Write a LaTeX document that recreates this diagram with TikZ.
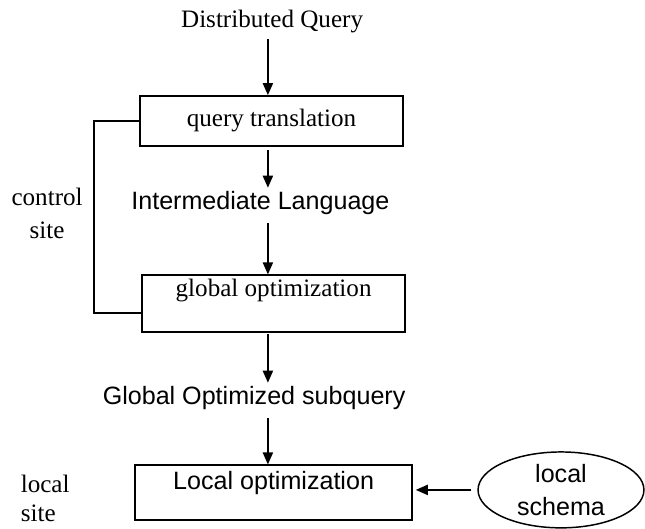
\documentclass[tikz,border=0pt]{standalone}
\usepackage{fontspec}
\setmainfont{Liberation Serif}
\setsansfont{Liberation Sans}
\usetikzlibrary{arrows.meta,shapes.geometric}

\begin{document}
\begin{tikzpicture}[
    serif/.style={font=\fontsize{23.8}{31.3}\selectfont},
    sans/.style={font=\fontsize{23.8}{31.3}\selectfont\sffamily},
    box/.style={draw, rectangle, line width=1.4pt, inner sep=0.1cm},
    arr/.style={-{Triangle[length=0.4cm, width=0.34cm]}, line width=1.4pt}
  ]
  \useasboundingbox (0,0) rectangle (21.5,-17.63);

  % column of the arrows
  \coordinate (axis) at (8.93,0);

  % Distributed query
  \node[serif] (dq) at (9.07,-0.70) {Distributed Query};

  % Query translation
  \node[box, serif, minimum width=8.77cm, minimum height=1.67cm] (qt) at (9.05,-4.03) {query translation};
  \draw[arr, shorten <=0.1cm] (dq.south -| axis) -- (qt.north -| axis);

  % Intermediate language
  \node[sans] (il) at (8.68,-6.77) {Intermediate Language};
  \draw[arr, shorten <=0.12cm] (qt.south -| axis) -- (il.north -| axis);

  % Global optimization
  \node[box, serif, minimum width=8.77cm, minimum height=1.9cm, text height=0.6cm, text depth=1.06cm] (go) at (9.12,-10.12) {global optimization};
  \draw[arr, shorten <=0.15cm] (il.south -| axis) -- (go.north -| axis);

  % Control site
  \draw[line width=1.4pt] (qt.west) -- ++(-1.5,0) |- ([yshift=-0.32cm]go.west);
  \node[serif, align=center] (cs) at (1.57,-7.1) {control\\site};

  % Global optimized subquery
  \node[sans] (gos) at (8.47,-13.27) {Global Optimized subquery};
  \draw[arr, shorten <=0.05cm] (go.south -| axis) -- (gos.north -| axis);

  % Local optimization
  \node[box, sans, minimum width=9.23cm, minimum height=1.83cm, text height=0.6cm, text depth=0.8cm] (lo) at (9.12,-16.42) {Local optimization};
  \draw[arr, shorten <=0.15cm] (gos.south -| axis) -- (lo.north -| axis);

  % Local site
  \node[serif, align=left, anchor=west, font=\fontsize{23.8}{27.5}\selectfont] (lsite) at (0.57,-16.62) {local\\site};

  % Local schema
  \node[draw, ellipse, line width=1.4pt, sans, align=center, inner sep=0pt, minimum width=5.53cm, minimum height=2.53cm] (ls) at (18.7,-16.33) {local\\schema};
  \draw[arr, shorten <=0.2cm, shorten >=0.1cm] (ls.west) -- (ls.west -| lo.east);
\end{tikzpicture}
\end{document}
